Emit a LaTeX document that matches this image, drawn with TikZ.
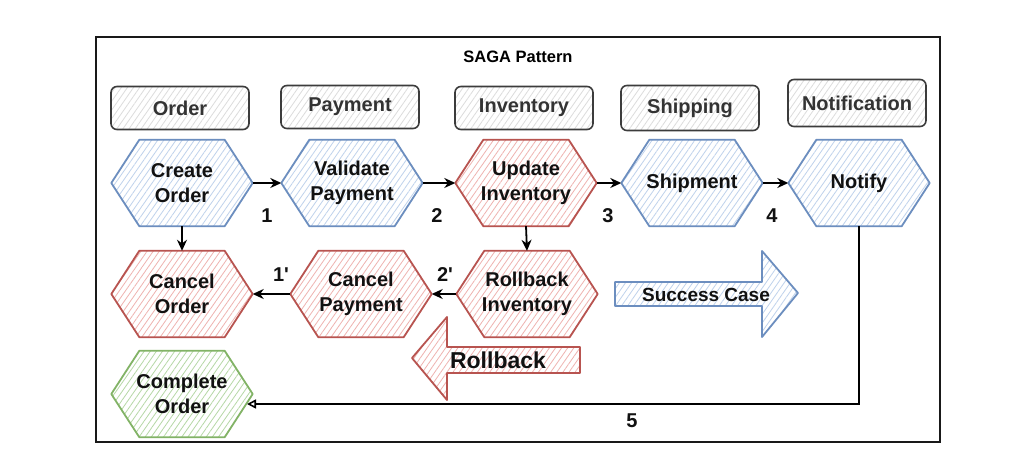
\documentclass[tikz,border=0pt]{standalone}
\usepackage{fontspec}
\setmainfont{Liberation Sans}
\usetikzlibrary{patterns.meta,arrows.meta,backgrounds}

\definecolor{bluestroke}{HTML}{6C8EBF}
\definecolor{bluehatch}{HTML}{BFD2EC}
\definecolor{redstroke}{HTML}{B85450}
\definecolor{redhatch}{HTML}{EFB3B0}
\definecolor{greenstroke}{HTML}{82B366}
\definecolor{greenhatch}{HTML}{B6D8A6}
\definecolor{graystroke}{HTML}{3C3C3C}
\definecolor{grayhatch}{HTML}{DCDCDC}
\definecolor{inktext}{HTML}{111111}
\definecolor{hdrtext}{HTML}{333333}

\newcommand\sagahexfont{\bfseries\fontsize{20}{25}\selectfont}
\newcommand\sagahdrfont{\bfseries\fontsize{20}{24}\selectfont}

% hexagon outline drawn around a (borderless) text node
\newcommand\sagahexagon[3]{%
  \path[draw=#2, line width=1.8pt, hatch=#3, line join=round]
    (#1.west) -- ([xshift=28pt]#1.north west) -- ([xshift=-28pt]#1.north east)
    -- (#1.east) -- ([xshift=-28pt]#1.south east) -- ([xshift=28pt]#1.south west) -- cycle;}

\tikzset{
  hatch/.style={pattern={Lines[angle=55,distance=5pt,line width=0.8pt]}, pattern color=#1},
  hexbox/.style={minimum width=141pt, minimum height=86pt, inner sep=0pt,
                 align=center, font=\sagahexfont, text=inktext},
  header/.style={draw=graystroke, line width=1.6pt, rounded corners=6pt, hatch=grayhatch,
                 minimum width=138pt, minimum height=43pt, inner sep=0pt,
                 font=\sagahdrfont, text=hdrtext},
  flow/.style={-{Stealth[length=11pt,width=10pt]}, line width=1.8pt, draw=black},
  steplabel/.style={font=\bfseries\fontsize{20}{24}\selectfont, text=inktext},
}

\begin{document}
\begin{tikzpicture}[x=1pt, y=-1pt]
  \useasboundingbox (0,0) rectangle (1028,470);

  % outer frame and title
  \draw[line width=2.2pt, draw=black!90] (96,37) rectangle (940,442);
  \node[font=\bfseries\fontsize{16.5}{20}\selectfont] (title) at (518,57) {SAGA Pattern};

  % service headers
  \node[header] (hOrder)   at (180,108) {Order};
  \node[header] (hPayment) at (350,107) {Payment};
  \node[header] (hInv)     at (524,108) {Inventory};
  \node[header, minimum height=45pt] (hShip)  at (690,108) {Shipping};
  \node[header, minimum height=47pt] (hNotif) at (857,103) {Notification};

  % saga steps
  \node[hexbox] (create)   at (182,183) {Create\\Order};
  \node[hexbox] (validate) at (352,183) {Validate\\Payment};
  \node[hexbox] (update)   at (526,183) {Update\\Inventory};
  \node[hexbox] (ship)     at (692,183) {Shipment};
  \node[hexbox] (notify)   at (859,183) {Notify};

  % compensations
  \node[hexbox] (cOrder)   at (182,294) {Cancel\\Order};
  \node[hexbox] (cPay)     at (361,294) {Cancel\\Payment};
  \node[hexbox] (rInv)     at (527,294) {Rollback\\Inventory};

  % final state
  \node[hexbox] (complete) at (182,394) {Complete\\Order};

  \begin{scope}[on background layer]
    \fill[white] (0,0) rectangle (1028,470);
    \sagahexagon{create}{bluestroke}{bluehatch}
    \sagahexagon{validate}{bluestroke}{bluehatch}
    \sagahexagon{update}{redstroke}{redhatch}
    \sagahexagon{ship}{bluestroke}{bluehatch}
    \sagahexagon{notify}{bluestroke}{bluehatch}
    \sagahexagon{cOrder}{redstroke}{redhatch}
    \sagahexagon{cPay}{redstroke}{redhatch}
    \sagahexagon{rInv}{redstroke}{redhatch}
    \sagahexagon{complete}{greenstroke}{greenhatch}

    % direction arrows
    \path[draw=redstroke, line width=1.8pt, hatch=redhatch, line join=round]
      (412,358) -- (447,317) -- (447,347) -- (580,347) -- (580,373)
      -- (447,373) -- (447,400) -- cycle;
    \path[draw=bluestroke, line width=1.8pt, hatch=bluehatch, line join=round]
      (615,282) -- (762,282) -- (762,251) -- (798,293) -- (762,337)
      -- (762,306) -- (615,306) -- cycle;
  \end{scope}

  \node[font=\bfseries\fontsize{23}{26}\selectfont, text=inktext] (rbText) at (498,360) {Rollback};
  \node[font=\bfseries\fontsize{19}{22}\selectfont, text=inktext] (okText) at (706,295) {Success Case};

  % forward flow
  \draw[flow] (create.east) -- (validate.west);
  \draw[flow] (validate.east) -- (update.west);
  \draw[flow] (update.east) -- (ship.west);
  \draw[flow] (ship.east) -- (notify.west);

  % compensation flow
  \draw[flow] (create.south) -- (cOrder.north);
  \draw[flow] (update.south) -- (rInv.north);
  \draw[flow] (rInv.west) -- (cPay.east);
  \draw[flow] (cPay.west) -- (cOrder.east);

  % completion
  \coordinate (retEnd) at (247,404);
  \draw[line width=1.6pt, -{Triangle[open,length=9pt,width=9pt]}] (notify.south) |- (retEnd);

  % step numbers
  \node[steplabel] (n1)  at (267,216) {1};
  \node[steplabel] (n2)  at (437,216) {2};
  \node[steplabel] (n3)  at (608,216) {3};
  \node[steplabel] (n4)  at (772,216) {4};
  \node[steplabel] (n1b) at (281,275) {1\textquotesingle};
  \node[steplabel] (n2b) at (445,275) {2\textquotesingle};
  \node[steplabel] (n5)  at (632,421) {5};
\end{tikzpicture}
\end{document}
